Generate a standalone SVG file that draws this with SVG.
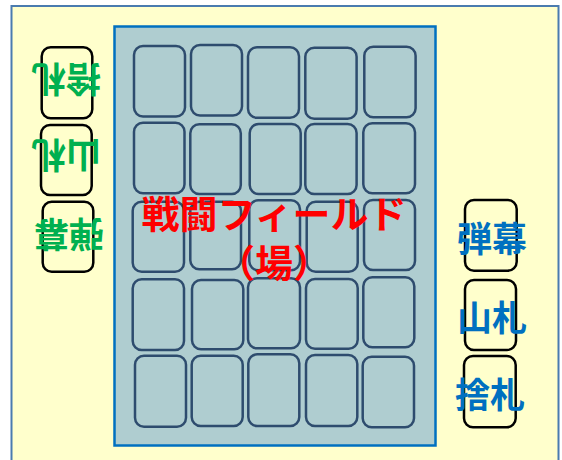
<svg xmlns="http://www.w3.org/2000/svg" width="562" height="460" viewBox="0 0 562 460">
<style>
.card{fill:#AFCDD0;stroke:#2E4C6E;stroke-width:2.5}
.pile{fill:#FFFFCC;stroke:#000;stroke-width:2.5}
.t{font-family:"Noto Sans CJK JP","Noto Sans CJK SC",sans-serif;font-weight:bold;text-anchor:middle;dominant-baseline:central}
.blue{fill:#0070C0;font-size:35px}
.green{fill:#00B050;font-size:35px}
.red{fill:#FF0000;font-size:38px}
</style>
<rect id="board" x="11.5" y="6" width="547" height="470" fill="#FFFFCC" stroke="#4A7BAF" stroke-width="2"/>
<g id="field">
<rect x="114.5" y="26.5" width="321" height="419" fill="#AFCDD0" stroke="#0070C0" stroke-width="2.5"/>
<g id="cards">
<rect class="card" x="134" y="46" width="51" height="70.5" rx="9"/>
<rect class="card" x="191" y="45" width="51" height="70.5" rx="9"/>
<rect class="card" x="248" y="47.3" width="51" height="70.5" rx="9"/>
<rect class="card" x="305.3" y="47.7" width="51.3" height="71" rx="9"/>
<rect class="card" x="364.3" y="46.7" width="51.3" height="70.5" rx="9"/>
<rect class="card" x="134" y="122.7" width="50.5" height="70.6" rx="9"/>
<rect class="card" x="190.3" y="124.3" width="50.5" height="69.7" rx="9"/>
<rect class="card" x="249.7" y="124" width="51" height="70" rx="9"/>
<rect class="card" x="305.3" y="124" width="51.3" height="70" rx="9"/>
<rect class="card" x="363.3" y="123.3" width="51.7" height="70" rx="9"/>
<rect class="card" x="132.7" y="201.7" width="51.3" height="70" rx="9"/>
<rect class="card" x="190.3" y="201.7" width="50.7" height="67.6" rx="9"/>
<rect class="card" x="249.3" y="200.3" width="50.7" height="70" rx="9"/>
<rect class="card" x="306.7" y="201.7" width="51" height="70" rx="9"/>
<rect class="card" x="364" y="200" width="51" height="70" rx="9"/>
<rect class="card" x="132.7" y="279.3" width="51.3" height="70.7" rx="9"/>
<rect class="card" x="192" y="280" width="51.3" height="69.3" rx="9"/>
<rect class="card" x="248" y="278.3" width="52" height="70" rx="9"/>
<rect class="card" x="306" y="279" width="51.7" height="69.7" rx="9"/>
<rect class="card" x="363.3" y="277.3" width="51" height="70" rx="9"/>
<rect class="card" x="135" y="355.7" width="51" height="71" rx="9"/>
<rect class="card" x="191.7" y="355.7" width="51" height="70.3" rx="9"/>
<rect class="card" x="248.3" y="354.3" width="51" height="71.7" rx="9"/>
<rect class="card" x="306" y="355" width="51.3" height="71" rx="9"/>
<rect class="card" x="362.7" y="356.7" width="51.3" height="70.6" rx="9"/>
</g>
<text class="t red" x="274" y="211">戦闘フィールド<tspan x="274" dy="49">（場）</tspan></text>
</g>
<g id="opp-discard">
<rect class="pile" x="41.7" y="47.3" width="50.6" height="71" rx="9"/>
<text class="t green" x="66" y="81.7" transform="rotate(180 66 81.7)">捨札</text>
</g>
<g id="opp-deck">
<rect class="pile" x="41" y="125" width="50.7" height="70" rx="9"/>
<text class="t green" x="66" y="157" transform="rotate(180 66 157)">山札</text>
</g>
<g id="opp-danmaku">
<rect class="pile" x="42.7" y="201.7" width="50.6" height="70" rx="9"/>
<text class="t green" x="69" y="236.5" transform="rotate(180 69 236.5)">弾幕</text>
</g>
<g id="my-danmaku">
<rect class="pile" x="465" y="200" width="51.7" height="70.7" rx="9"/>
<text class="t blue" x="492" y="236.7">弾幕</text>
</g>
<g id="my-deck">
<rect class="pile" x="465" y="280" width="51" height="70" rx="9"/>
<text class="t blue" x="492" y="315.5">山札</text>
</g>
<g id="my-discard">
<rect class="pile" x="464" y="356" width="51.7" height="71.3" rx="9"/>
<text class="t blue" x="490" y="392.5">捨札</text>
</g>
<g id="connectors"/>
</svg>
